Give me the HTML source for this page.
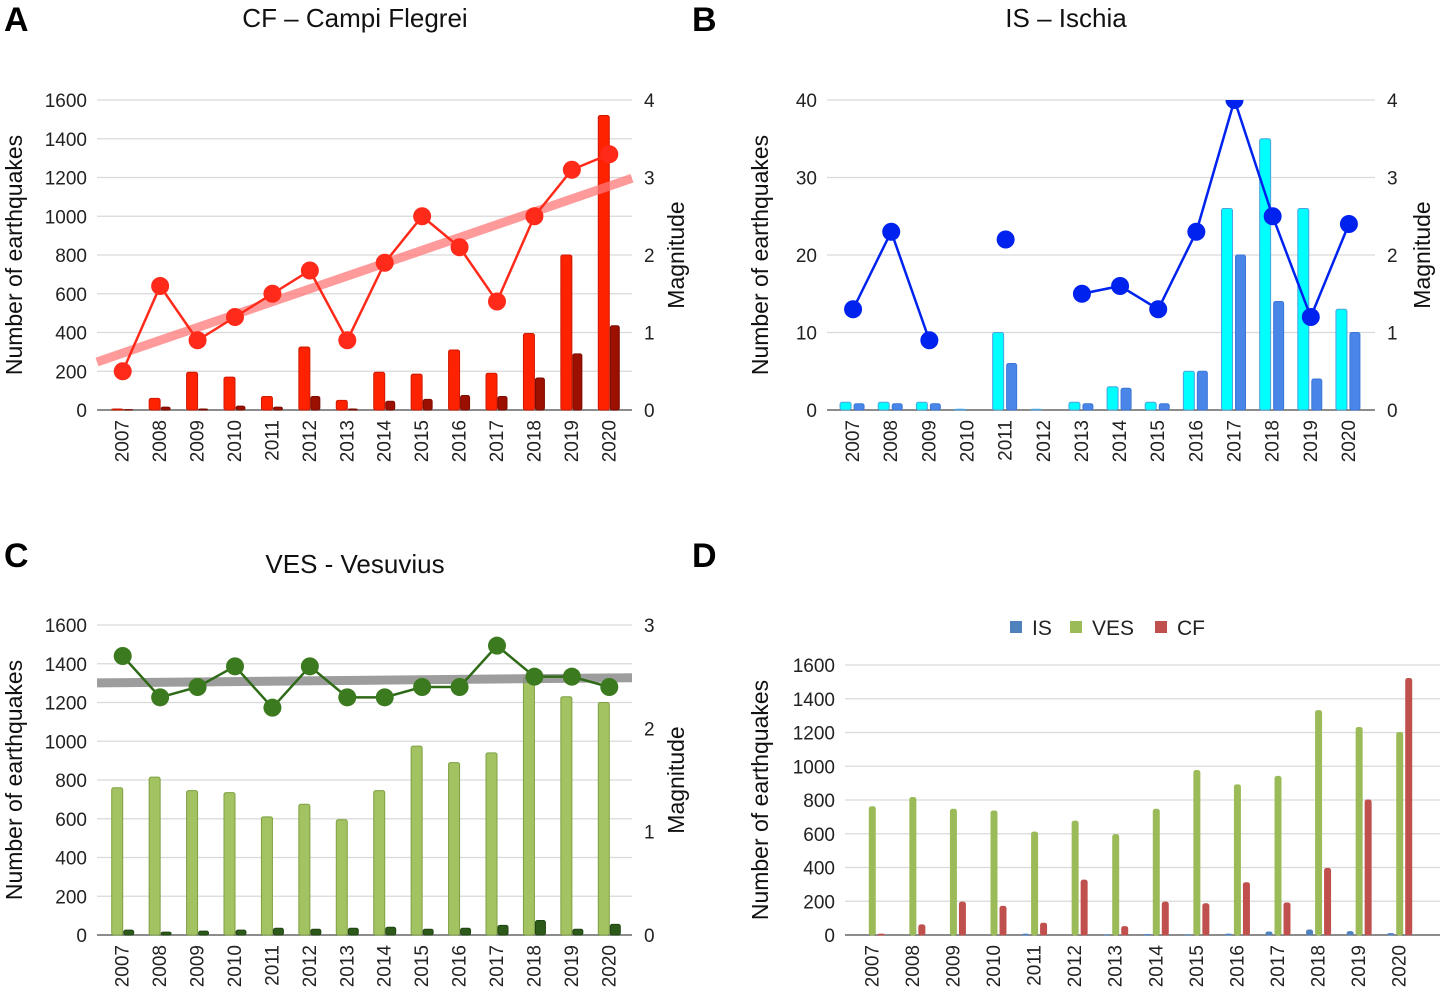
<!DOCTYPE html>
<html><head><meta charset="utf-8">
<style>
body{margin:0;background:#fff;}
svg{display:block;font-family:"Liberation Sans",sans-serif;}
</style></head>
<body>
<svg id="fig" width="1450" height="995" viewBox="0 0 1450 995" xmlns="http://www.w3.org/2000/svg">
<defs>
<clipPath id="clipB"><rect x="820" y="100" width="570" height="320"/></clipPath>
</defs>
<g font-weight="bold" font-size="34" fill="#000">
<text x="4" y="31">A</text>
<text x="692" y="31">B</text>
<text x="4" y="567">C</text>
<text x="692" y="567">D</text>
</g>
<g font-size="26" fill="#111" text-anchor="middle">
<text x="355" y="27">CF – Campi Flegrei</text>
<text x="1066" y="27">IS – Ischia</text>
<text x="355" y="573">VES - Vesuvius</text>
</g>
<g id="layer"></g>
</svg>
<script>
const years = ["2007","2008","2009","2010","2011","2012","2013","2014","2015","2016","2017","2018","2019","2020"];
// Panel A - Campi Flegrei
const cfCount = [5,60,195,170,70,325,50,195,185,310,190,395,800,1520];
const cfCountDark = [2,15,5,20,15,70,5,45,55,75,70,165,290,435];
const cfMag = [0.5,1.6,0.9,1.2,1.5,1.8,0.9,1.9,2.5,2.1,1.4,2.5,3.1,3.3];
const cfTrend = [0.62,2.99];
const leftTicks1600 = [0,200,400,600,800,1000,1200,1400,1600];
const magTicks4 = [0,1,2,3,4];
// Panel B - Ischia
const isCount = [1,1,1,0.1,10,0.1,1,3,1,5,26,35,26,13];
const isCountDark = [0.8,0.8,0.8,0,6,0,0.8,2.8,0.8,5,20,14,4,10];
const isMag = [1.3,2.3,0.9,null,2.2,null,1.5,1.6,1.3,2.3,4.0,2.5,1.2,2.4];
const isTicks = [0,10,20,30,40];
// Panel C - Vesuvius
const vesCount = [760,815,745,735,610,675,595,745,975,890,940,1330,1230,1200];
const vesCountDark = [25,15,20,25,35,30,35,40,30,35,50,75,30,55];
const vesMag = [2.7,2.3,2.4,2.6,2.2,2.6,2.3,2.3,2.4,2.4,2.8,2.5,2.5,2.4];
const vesTrend = [2.44,2.49];
const magTicks3 = [0,1,2,3];
// Panel D - comparison
const dIS = [0,0,0,0,5,0,1,3,1,5,18,30,20,8];
const dVES = vesCount;
const dCF = cfCount;
const dLegend = ["IS","VES","CF"];

const NS="http://www.w3.org/2000/svg";
const layer=document.getElementById('layer');
function mk(tag,attrs,parent){const e=document.createElementNS(NS,tag);for(const k in attrs)e.setAttribute(k,attrs[k]);(parent||layer).appendChild(e);return e;}
function txt(s,attrs,parent){const e=mk('text',attrs,parent);e.textContent=s;return e;}

function axes(p){
  const ly=v=>p.yBot-(v/p.lmax)*(p.yBot-p.yTop);
  const step=(p.c1-p.c0)/years.length;
  const cx=i=>p.c0+step*(i+0.5);
  const g=mk('g',{});
  
  
  p.ticks.forEach(t=>{
    const l=mk('line',{x1:p.x0,x2:p.x1,y1:ly(t),y2:ly(t),stroke:t===0?'#666':'#d9d9d9','stroke-width':t===0?1.5:1.3},g);
    
    
    const tl=txt(String(t),{x:p.x0-10,y:ly(t)+7,'font-size':19,'text-anchor':'end',fill:'#222'},g);
    
    
  });
  if(p.rticks){
    const ry=v=>p.yBot-(v/p.rmax)*(p.yBot-p.yTop);
    p.rticks.forEach(t=>{
      const tl=txt(String(t),{x:p.x1+12,y:ry(t)+7,'font-size':19,'text-anchor':'start',fill:'#222'},g);
      
      
    });
    const rt=txt('Magnitude',{transform:`translate(${p.x1+p.rtOff},${(p.yTop+p.yBot)/2}) rotate(-90)`,'font-size':23,'text-anchor':'middle',fill:'#111'},g);
    
    
  }
  years.forEach((y,i)=>{
    const tl=txt(y,{transform:`translate(${cx(i)+6},${p.yBot+10}) rotate(-90)`,'font-size':19,'text-anchor':'end',fill:'#222'},g);
    
    
  });
  const yt=txt('Number of earthquakes',{transform:`translate(${p.titleX},${(p.yTop+p.yBot)/2}) rotate(-90)`,'font-size':23,'text-anchor':'middle',fill:'#111'},g);
  
  
  return {ly,cx,step};
}
function bars(p,ax,vals,off,w,fill,stroke,name,clip){
  const g=mk('g',clip?{'clip-path':clip}:{});
  
  
  vals.forEach((v,i)=>{
    const y=ax.ly(v);
    const r=mk('rect',{x:ax.cx(i)+off,y:y,width:w,height:Math.max(p.yBot-y,0),fill:fill,stroke:stroke,'stroke-width':1,rx:2},g);
    
    
  });
}
function magLine(p,ax,vals,color,stroke,r,name,clip){
  const ry=v=>p.yBot-(v/p.rmax)*(p.yBot-p.yTop);
  const g=mk('g',clip?{'clip-path':clip}:{});
  
  
  let seg=[];
  const flush=()=>{if(seg.length>1){const pl=mk('polyline',{points:seg.join(' '),fill:'none',stroke:stroke,'stroke-width':2.5},g);}seg=[];};
  vals.forEach((v,i)=>{if(v===null){flush();return;}seg.push(ax.cx(i)+','+ry(v));});
  flush();
  vals.forEach((v,i)=>{if(v===null)return;
    const c=mk('circle',{cx:ax.cx(i),cy:ry(v),r:r,fill:color},g);
    
    });
}
function trend(p,vals,color,w,name){
  const ry=v=>p.yBot-(v/p.rmax)*(p.yBot-p.yTop);
  const l=mk('line',{x1:p.x0,x2:p.x1,y1:ry(vals[0]),y2:ry(vals[1]),stroke:color,'stroke-width':w});
  
  
}

// A
const pA={x0:97,x1:632,c0:104,c1:628,yTop:100,yBot:410,lmax:1600,ticks:leftTicks1600,rmax:4,rticks:magTicks4,rtOff:52,name:'panel-a',titleX:22};
const aA=axes(pA);
bars(pA,aA,cfCount,-11,11,'#ff2200','#d01800','cf-count');
bars(pA,aA,cfCountDark,1,9,'#9b1000','#7a0c00','cf-dark');
trend(pA,cfTrend,'rgba(255,120,120,0.75)',9,'cf-trendline');
magLine(pA,aA,cfMag,'#ff2a1a','#ff2a1a',9,'cf-magnitude');
// B
const pB={x0:827,x1:1375,c0:834,c1:1368,yTop:100,yBot:410,lmax:40,ticks:isTicks,rmax:4,rticks:magTicks4,rtOff:55,name:'panel-b',titleX:768};
const aB=axes(pB);
bars(pB,aB,isCount,-13,11,'#00ffff','#4aa3df','is-count');
bars(pB,aB,isCountDark,1,10,'#4a86e8','#3a76d8','is-dark');
magLine(pB,aB,isMag,'#0022ee','#0022ee',9,'is-magnitude','url(#clipB)');
// C
const pC={x0:97,x1:632,c0:104,c1:628,yTop:625,yBot:935,lmax:1600,ticks:leftTicks1600,rmax:3,rticks:magTicks3,rtOff:52,name:'panel-c',titleX:22};
const aC=axes(pC);
bars(pC,aC,vesCount,-11,11,'#a3c363','#7ea040','ves-count');
bars(pC,aC,vesCountDark,1,10,'#2d5a1b','#1f4512','ves-dark');
trend(pC,vesTrend,'rgba(140,140,140,0.85)',9,'ves-trendline');
magLine(pC,aC,vesMag,'#3b7a1f','#2f6a18',9,'ves-magnitude');
// D
const pD={x0:845,x1:1440,c0:852,c1:1420,yTop:665,yBot:935,lmax:1600,ticks:leftTicks1600,name:'panel-d',titleX:768};
const aD=axes(pD);
bars(pD,aD,dIS,-12,6,'#4f81bd','#4f81bd','d-is');
bars(pD,aD,dVES,-3,6,'#9bbb59','#9bbb59','d-ves');
bars(pD,aD,dCF,6,6,'#c0504d','#c0504d','d-cf');
const legColors=['#4f81bd','#9bbb59','#c0504d'];
const legX=[1010,1070,1155];
const lg=mk('g',{});


dLegend.forEach((s,i)=>{
  const e=mk('g',{},lg);
  
  
  mk('rect',{x:legX[i],y:621,width:12,height:12,fill:legColors[i]},e);
  txt(s,{x:legX[i]+22,y:635,'font-size':21,fill:'#222'},e);
});
</script>
</body></html>
